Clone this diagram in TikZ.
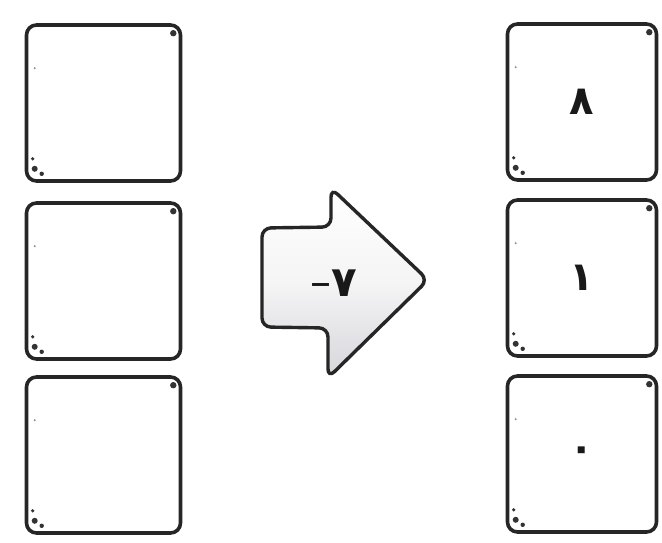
\documentclass[tikz,border=0pt]{standalone}
\usepackage{fontspec}
\newfontfamily\arabicfont{DejaVu Sans}
\begin{document}
\begin{tikzpicture}[x=1pt,y=-1pt,
  box/.style={draw=black!85, line width=3.6pt, rounded corners=10pt, fill=white, minimum width=154pt, minimum height=156pt, inner sep=0pt},
  rbox/.style={box, minimum width=149pt},
  digit/.style={font=\arabicfont\bfseries\fontsize{40}{40}\selectfont, text=black!90},
  dotmark/.style={fill=black!80, draw=none}]
\useasboundingbox (0,0) rectangle (662,543);
\fill[white] (0,0) rectangle (662,543);
% left column
\node[box] (l1) at (103.5,103) {};
\node[box] (l2) at (103.5,281) {};
\node[box] (l3) at (103.5,455) {};
% right column
\node[rbox] (r1) at (582,102) {};
\node[rbox] (r2) at (582,278) {};
\node[rbox] (r3) at (582,454) {};
% corner dots
\foreach \n in {l1,l2,l3,r1,r2,r3}{
  \fill[dotmark] ([xshift=-9pt,yshift=-10pt]\n.north east) circle (3.2pt);
  \fill[dotmark] ([xshift=10pt,yshift=14pt]\n.south west) circle (3pt);
  \fill[dotmark] ([xshift=17pt,yshift=9pt]\n.south west) circle (2.2pt);
  \fill[dotmark] ([xshift=8pt,yshift=24pt]\n.south west) circle (1.8pt);
  \fill[black!40] ([xshift=10pt,yshift=-45pt]\n.north west) circle (1.2pt);
}
% digits
\node[digit] (d1) at (r1.center) {٨};
\node[digit] (d2) at (r2.center) {١};
\node[digit] (d3) at (r3.center) {٠};
% arrow
\draw[line width=3.4pt, draw=black!85, rounded corners=9pt, top color=white, bottom color=blue!8!gray!30, middle color=blue!3!gray!8]
  (262,228) -- (331,227) -- (331,188) -- (428,280) -- (328,378) -- (328,328) -- (262,327) -- cycle;
\node[font=\arabicfont\fontsize{42}{42}\selectfont, text=black!90] (op) at (334,283) {–{\bfseries ٧}};
\end{tikzpicture}
\end{document}
